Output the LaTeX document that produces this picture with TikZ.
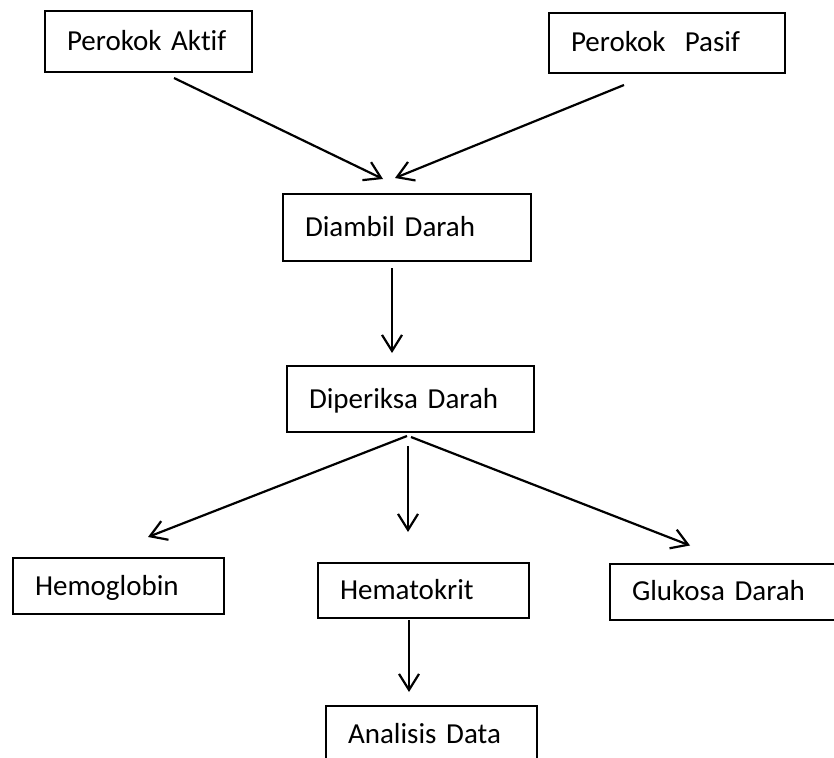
\documentclass[tikz,border=0pt]{standalone}
\usepackage{fontspec}
\setmainfont{Carlito}[Ligatures=NoCommon]
\usetikzlibrary{arrows.meta}

\begin{document}
\begin{tikzpicture}[x=1pt,y=-1pt,
    kotak/.style={draw, line width=2pt, align=left, inner xsep=22pt,
      text height=21pt, text depth=3pt, font=\fontsize{29}{34}\selectfont},
    panah/.style={line width=2.2pt, -{Straight Barb[length=16pt,width=20pt]}}]
  \useasboundingbox (0,0) rectangle (834,757);

  \node[kotak, text width=163pt, minimum height=61pt] (aktif) at (148.5,41.5) {Perokok Aktif};
  \node[kotak, text width=192pt, minimum height=60pt] (pasif) at (667,43) {Perokok\ \ Pasif};
  \node[kotak, text width=204pt, minimum height=67pt] (ambil) at (407,227.5) {Diambil Darah};
  \node[kotak, text width=203pt, minimum height=66pt] (periksa) at (410.5,399) {Diperiksa Darah};
  \node[kotak, text width=167pt, minimum height=56pt] (hb) at (118.5,586) {Hemoglobin};
  \node[kotak, text width=167pt, minimum height=55pt] (ht) at (423.5,590.5) {Hematokrit};
  \node[kotak, text width=186pt, minimum height=56pt] (gula) at (725,591.5) {Glukosa Darah};
  \node[kotak, text width=167pt, minimum height=56pt] (analisis) at (431.5,734) {Analisis Data};

  \draw[panah] ([shift={(25.5,5)}]aktif.south) -- ([shift={(-24,-14)}]ambil.north);
  \draw[panah] ([shift={(-43,11)}]pasif.south) -- ([shift={(-12,-15)}]ambil.north);
  \draw[panah] ([shift={(-15,6)}]ambil.south) -- ([shift={(-18.5,-12)}]periksa.north);
  \draw[panah] ([shift={(-3.5,3)}]periksa.south) -- ([shift={(29.5,-20)}]hb.north);
  \draw[panah] ([shift={(-2.5,13)}]periksa.south) -- ([shift={(-15.5,-30)}]ht.north);
  \draw[panah] ([shift={(0.5,4)}]periksa.south) -- ([shift={(-35,-17)}]gula.north);
  \draw[panah] ([shift={(-14.5,1)}]ht.south) -- ([shift={(-22.5,-13)}]analisis.north);
\end{tikzpicture}
\end{document}
